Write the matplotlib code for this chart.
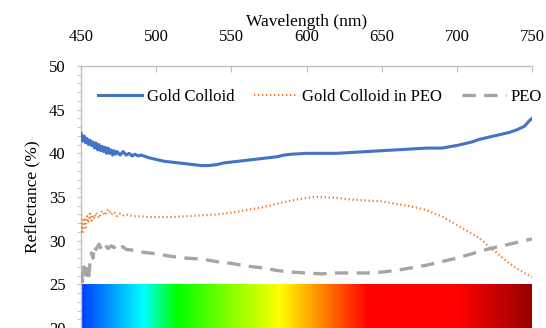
import matplotlib
matplotlib.use("Agg")
import matplotlib.pyplot as plt
import numpy as np
from matplotlib.colors import LinearSegmentedColormap
from matplotlib.ticker import MultipleLocator

plt.rcParams['font.family'] = ['Liberation Serif', 'DejaVu Serif']

# Gold Colloid (blue, solid)
gold_wl = [450, 451, 452, 453, 454, 455, 456, 457, 458, 459, 460, 461, 462, 463, 464, 465,
           466, 467, 468, 469, 470, 471, 472, 473, 474, 476, 478, 480, 482, 484, 486, 488,
           490, 495, 500, 505, 510, 515, 520, 525, 530, 535, 540, 545, 550, 555, 560, 565,
           570, 575, 580, 585, 590, 595, 600, 610, 620, 630, 640, 650, 660, 670, 680, 690,
           700, 705, 710, 715, 720, 725, 730, 735, 740, 745, 748, 750]
gold_r = [42.3, 41.4, 42.0, 41.2, 41.7, 41.0, 41.5, 40.9, 41.3, 40.6, 41.2, 40.4, 41.0, 40.3,
          40.8, 40.2, 40.7, 40.0, 40.6, 40.0, 40.4, 39.8, 40.3, 39.9, 40.2, 39.8, 40.2, 39.8,
          40.0, 39.7, 39.9, 39.7, 39.8, 39.5, 39.3, 39.1, 39.0, 38.9, 38.8, 38.7, 38.6, 38.6,
          38.7, 38.9, 39.0, 39.1, 39.2, 39.3, 39.4, 39.5, 39.6, 39.8, 39.9, 39.95, 40.0, 40.0,
          40.0, 40.1, 40.2, 40.3, 40.4, 40.5, 40.6, 40.6, 40.9, 41.1, 41.3, 41.6, 41.8, 42.0,
          42.2, 42.4, 42.7, 43.1, 43.7, 44.0]

# Gold Colloid in PEO (orange, dotted)
peo_gold_wl = [450, 451, 452, 453, 454, 455, 456, 457, 458, 459, 460, 462, 464, 466, 468, 470,
               472, 474, 476, 478, 480, 485, 490, 495, 500, 510, 520, 530, 540, 550, 560, 570,
               580, 590, 600, 605, 610, 620, 630, 640, 650, 660, 670, 680, 685, 690, 695, 700,
               705, 710, 715, 722, 726, 730, 735, 740, 743, 746, 750]
peo_gold_r = [33.0, 30.8, 32.6, 31.5, 32.8, 32.0, 33.1, 32.3, 32.9, 32.5, 33.2, 32.6, 33.4, 32.9,
              33.6, 33.0, 33.3, 32.8, 33.1, 32.9, 33.0, 32.8, 32.8, 32.7, 32.7, 32.7, 32.8, 32.9,
              33.0, 33.2, 33.5, 33.8, 34.2, 34.6, 34.9, 35.0, 35.0, 34.9, 34.7, 34.6, 34.5, 34.2,
              33.9, 33.5, 33.1, 32.8, 32.3, 31.8, 31.3, 30.8, 30.3, 29.2, 28.7, 28.1, 27.4, 26.8,
              26.5, 26.2, 25.8]

# PEO (gray, dashed)
peo_wl = [450, 451, 452, 453, 454, 455, 456, 457, 458, 459, 460, 462, 464, 466, 468, 470, 472,
          474, 476, 478, 480, 485, 490, 500, 510, 520, 530, 540, 550, 560, 570, 580, 590, 600,
          610, 620, 630, 640, 650, 660, 670, 680, 690, 700, 710, 720, 730, 740, 750]
peo_r = [26.5, 25.3, 27.0, 25.6, 26.8, 25.4, 27.5, 28.6, 28.0, 29.4, 29.0, 29.6, 28.9, 29.5,
         29.1, 29.4, 29.2, 29.6, 29.2, 29.3, 29.0, 28.9, 28.7, 28.5, 28.2, 28.0, 27.9, 27.6,
         27.4, 27.1, 26.9, 26.6, 26.4, 26.3, 26.2, 26.3, 26.3, 26.3, 26.4, 26.6, 26.9, 27.2,
         27.6, 28.0, 28.5, 29.0, 29.4, 29.8, 30.2]

# visible spectrum strip below the curves
spec_wl = [450, 491, 513, 582, 602, 641, 701, 750]
spec_colors = ['#0040ff', '#00ffff', '#00ff00', '#ffff00', '#ffaa00', '#ff0000', '#ff0000', '#990000']

x_ticks = [450, 500, 550, 600, 650, 700, 750]

fig = plt.figure(figsize=(5.46, 3.28), dpi=100)
ax = fig.add_axes([81 / 546, 0.0, 451 / 546, 262 / 328])

stops = [(w - spec_wl[0]) / (spec_wl[-1] - spec_wl[0]) for w in spec_wl]
cmap = LinearSegmentedColormap.from_list('spec', list(zip(stops, spec_colors)))
ax.imshow(np.linspace(0, 1, 600)[None, :], cmap=cmap, aspect='auto',
          extent=[450, 750, 20, 25], zorder=1)

ax.plot(gold_wl, gold_r, color='#4472C4', lw=2.2, label='Gold Colloid', zorder=3)
ax.plot(peo_gold_wl, peo_gold_r, color='#ED7D31', lw=1.6, ls=(0, (0.6, 1.2)),
        label='Gold Colloid in PEO', zorder=3)
ax.plot(peo_wl, peo_r, color='#A5A5A5', lw=2.4, ls=(0, (4, 2.5)), label='PEO', zorder=3)

ax.set_xlim(450, 750)
ax.set_ylim(20, 50)
ax.set_xticks(x_ticks)
ax.yaxis.set_major_locator(MultipleLocator(5))
ax.yaxis.set_minor_locator(MultipleLocator(1))

ax.xaxis.tick_top()
ax.xaxis.set_label_position('top')
ax.set_xlabel('Wavelength (nm)', fontsize=12.5, labelpad=2)
ax.set_ylabel('Reflectance (%)', fontsize=12.5, labelpad=6)

ax.tick_params(axis='x', direction='in', length=4, color='#bfbfbf', labelsize=12, pad=15)
ax.tick_params(axis='y', which='both', direction='out', length=3, color='#bfbfbf',
               labelsize=12, pad=8)

for side in ['right', 'bottom']:
    ax.spines[side].set_visible(False)
for side in ['left', 'top']:
    ax.spines[side].set_color('#bfbfbf')
    ax.spines[side].set_linewidth(1.0)

ax.legend(loc='center', bbox_to_anchor=(320 / 546, 1 - 97 / 328), bbox_transform=fig.transFigure,
          ncol=3, frameon=False, fontsize=12, handlelength=2.6, columnspacing=1.2,
          handletextpad=0.3, borderaxespad=0)

fig.savefig('out.png', dpi=100)
